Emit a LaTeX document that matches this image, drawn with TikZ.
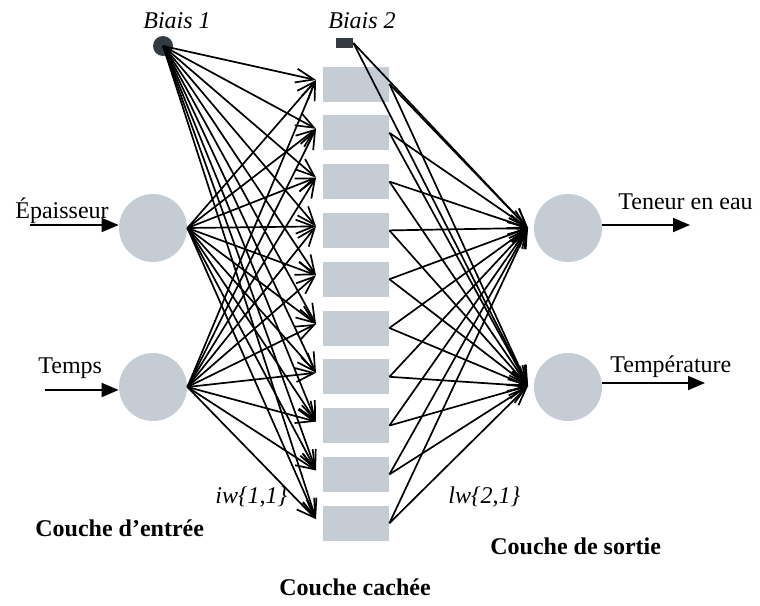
\documentclass[tikz,border=0pt]{standalone}
\usepackage{fontspec}
\setmainfont{Liberation Serif}
\usetikzlibrary{arrows.meta,calc}
\definecolor{cellgrey}{RGB}{198,204,212}
\definecolor{biasdark}{RGB}{52,58,66}
\begin{document}
\begin{tikzpicture}[x=0.5pt,y=-0.5pt,
  neuron/.style={circle,fill=cellgrey,minimum size=34pt,inner sep=0pt},
  hid/.style={rectangle,fill=cellgrey,minimum width=33pt,minimum height=17.5pt,inner sep=0pt},
  net/.style={line width=0.85pt,-{Straight Barb[length=9pt,width=7pt,line width=0.85pt]}},
  io/.style={line width=0.9pt,-{Triangle[length=8.5pt,width=7pt]}},
  lbl/.style={font=\fontsize{12}{14}\selectfont,inner sep=0pt},
  ital/.style={font=\fontsize{12}{14}\selectfont\itshape,inner sep=0pt},
  bld/.style={font=\fontsize{12}{14}\selectfont\bfseries,inner sep=0pt}]
\useasboundingbox (0,0) rectangle (760,605);
% hidden layer
\foreach \i in {1,...,10}{
  \node[hid] (h\i) at (356,{84+48.8*(\i-1)}) {};
  \coordinate (t\i) at (316,{80+48.8*(\i-1)});
}
% input / output neurons
\node[neuron] (i1) at (153,228) {};
\node[neuron] (i2) at (153,387) {};
\node[neuron] (o1) at (568,228) {};
\node[neuron] (o2) at (568,387) {};
% biases
\node[circle,fill=biasdark,minimum size=10pt,inner sep=0pt] (b1) at (163,46) {};
\node[rectangle,fill=biasdark,minimum width=8.5pt,minimum height=5pt,inner sep=0pt] (b2) at (344.5,43) {};
% connections input -> hidden
\foreach \i in {1,...,10}{
  \draw[net] (b1.center) -- (t\i);
  \draw[net] (i1.east) -- (t\i);
  \draw[net] (i2.east) -- (t\i);
}
% hidden -> output
\coordinate (o1in) at (528,228);
\coordinate (o2in) at (528,386);
\foreach \i in {1,...,10}{
  \draw[net] (h\i.east) -- (o1in);
  \draw[net] (h\i.east) -- (o2in);
}
\draw[net] (b2.east) -- (o1in);
\draw[net] (b2.east) -- (o2in);
% input / output arrows
\coordinate (in1) at (30,225);
\coordinate (in2) at (45,390);
\coordinate (out1) at (690,225);
\coordinate (out2) at (705,383);
\draw[io] (in1) -- (in1 -| i1.west);
\draw[io] (in2) -- (in2 -| i2.west);
\draw[io] (out1 -| o1.east) -- (out1);
\draw[io] (out2 -| o2.east) -- (out2);
% labels
\node[ital,anchor=base west] (lb1) at (143,28) {Biais 1};
\node[ital,anchor=base west] (lb2) at (328,28) {Biais 2};
\node[lbl,anchor=base west] (le) at (15,218) {Épaisseur};
\node[lbl,anchor=base west] (lt) at (38,373) {Temps};
\node[lbl,anchor=base west] (lw) at (618,209) {Teneur en eau};
\node[lbl,anchor=base west] (ltp) at (610,372) {Température};
\node[ital,anchor=base west] (liw) at (215,503) {iw\{1,1\}};
\node[ital,anchor=base west] (llw) at (448,503) {lw\{2,1\}};
\node[bld,anchor=base west] (lce) at (35,536) {Couche d’entrée};
\node[bld,anchor=base west] (lcs) at (490,554) {Couche de sortie};
\node[bld,anchor=base west] (lcc) at (279,595) {Couche cachée};
\end{tikzpicture}
\end{document}
